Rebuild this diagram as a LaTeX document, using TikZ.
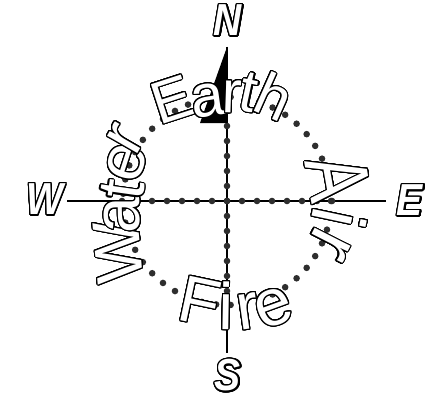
\documentclass[tikz,border=0pt]{standalone}
\usepackage{fontspec}
\usepackage[copies]{contour}
\usetikzlibrary{calc}
\newfontfamily\lsans{Liberation Sans}
\contourlength{1.1pt}
\contournumber{28}
\newcommand\olt[1]{\textcolor{white}{\contour{black}{#1}}}
\newcommand\oltb[1]{\contourlength{1.3pt}\textcolor{white}{\contour{black}{#1}}}
\tikzset{
  axisline/.style={line width=2.8pt, black},
  dotmark/.style={fill=black!82},
  needle/.style={fill=black},
  earthlt/.style={inner sep=0pt, font=\lsans\fontsize{60}{62}\selectfont},
  airlt/.style={inner sep=0pt, font=\lsans\fontsize{76}{78}\selectfont},
  firelt/.style={inner sep=0pt, font=\lsans\fontsize{66}{68}\selectfont},
  waterlt/.style={inner sep=0pt, font=\lsans\fontsize{66}{68}\selectfont},
  dirlt/.style={inner sep=0pt, yscale=1.15, font=\lsans\bfseries\itshape\fontsize{39}{41}\selectfont},
}
\begin{document}
\begin{tikzpicture}[x=1pt, y=-1pt]
\useasboundingbox (0,0) rectangle (426,396);
\coordinate (O) at (227,201);
\coordinate (Wend) at (67,201);
\coordinate (Eend) at (386,201);
\coordinate (Nend) at (227,47);
\coordinate (Send) at (227,353);
\coordinate (Nb) at (227,123);
\coordinate (Nl) at (200,123);
% axes
\draw[axisline] (Wend) -- (Eend);
\draw[axisline] (Nend) -- (Send);
% dotted axes and ring
\foreach \k in {-7,...,7} {
  \fill[dotmark] ($(O)+(\k*15,0)$) circle[radius=3.3];
  \fill[dotmark] ($(O)+(0,\k*15)$) circle[radius=3.3];
}
\foreach \k in {0,...,44} {
  \fill[dotmark] ($(O)+(\k*8:104)$) circle[radius=3.3];
}
% needle
\fill[needle] (Nend) -- (Nb) -- (Nl) -- cycle;
% Earth
\node[earthlt, rotate=18] (e1) at (172,100) {\olt{E}};
\node[earthlt, rotate=8] (e2) at (208,101) {\olt{a}};
\node[earthlt, rotate=-2] (e3) at (232,97) {\olt{r}};
\node[earthlt, rotate=-12] (e4) at (249,93) {\olt{t}};
\node[earthlt, rotate=-24] (e5) at (274,97) {\olt{h}};
% Air
\node[airlt, rotate=-80, xscale=0.75, font=\lsans\fontsize{88}{90}\selectfont] (a1) at (338,178) {\olt{A}};
\node[airlt, rotate=-102] (a2) at (339,218) {\olt{i}};
\node[airlt, rotate=-117] (a3) at (329,244) {\olt{r}};
% Fire
\node[firelt, rotate=-12] (f1) at (200,302) {\olt{F}};
\node[firelt, rotate=-1] (f2) at (226,306) {\olt{i}};
\node[firelt, rotate=8] (f3) at (248,312) {\olt{r}};
\node[firelt, rotate=20] (f4) at (274,308) {\olt{e}};
% Water
\node[waterlt, rotate=95] (w1) at (119,252) {\olt{W}};
\node[waterlt, rotate=90] (w2) at (123,215) {\olt{a}};
\node[waterlt, rotate=82] (w3) at (123,190) {\olt{t}};
\node[waterlt, rotate=72] (w4) at (127,163) {\olt{e}};
\node[waterlt, rotate=60] (w5) at (126,139) {\olt{r}};
% directions
\node[dirlt] (N) at (228,21) {\oltb{N}};
\node[dirlt] (S) at (228,376) {\oltb{S}};
\node[dirlt] (E) at (410,201) {\oltb{E}};
\node[dirlt] (W) at (45,200) {\oltb{W}};
\end{tikzpicture}
\end{document}
